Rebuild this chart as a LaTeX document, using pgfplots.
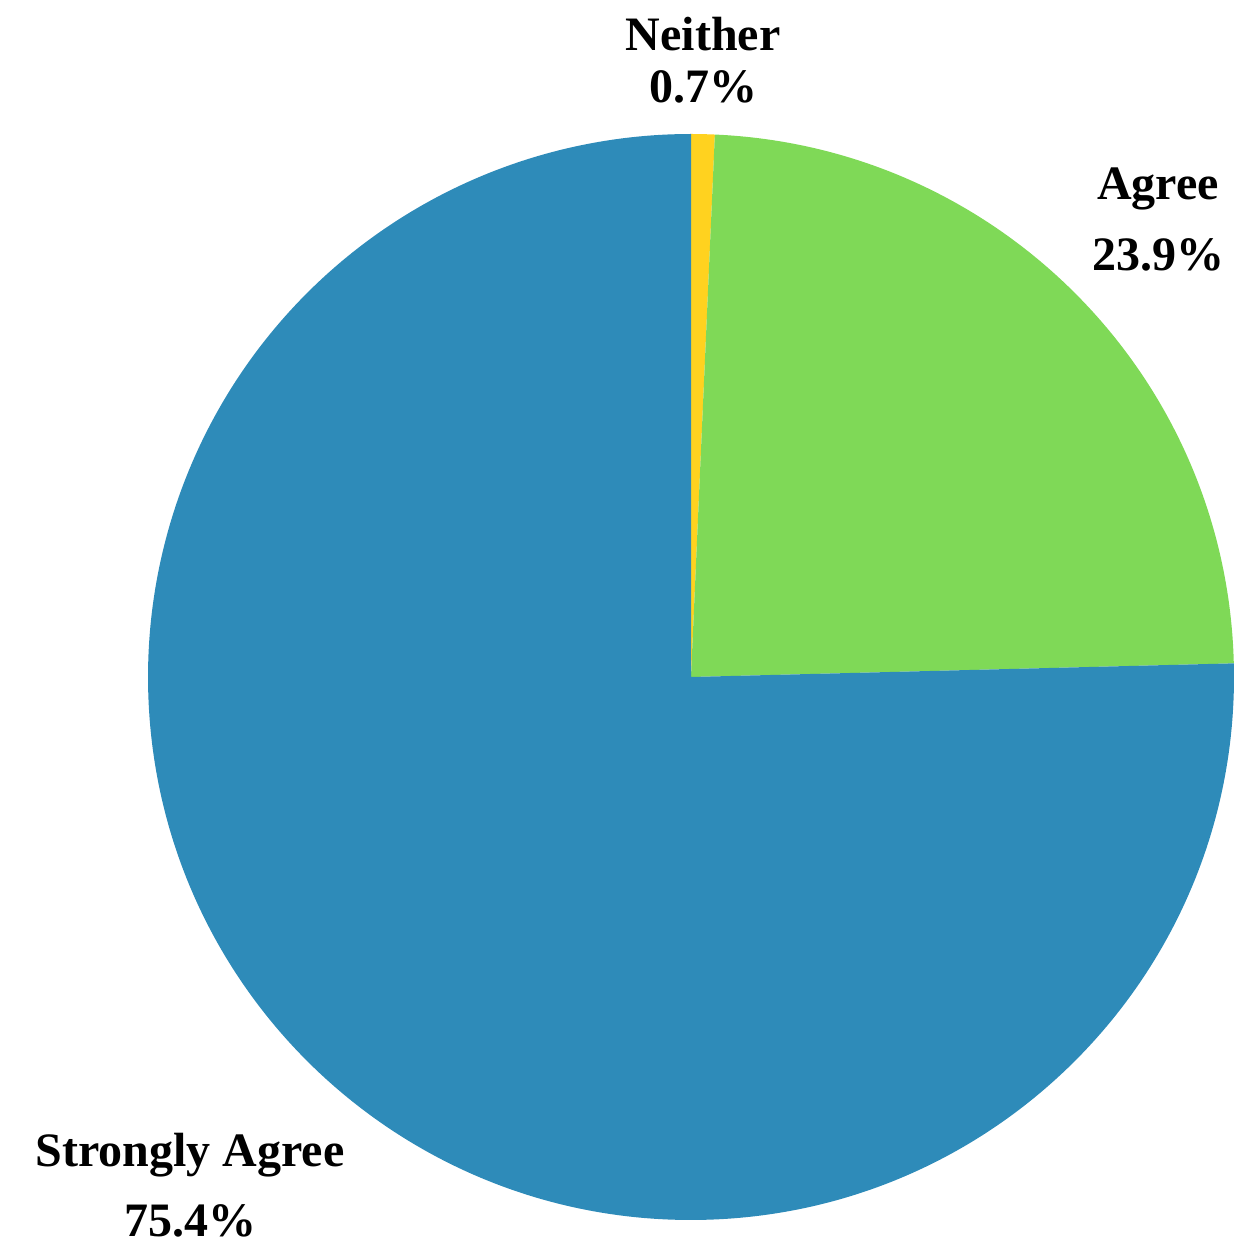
\documentclass[border=0pt]{standalone}
\usepackage{pgfplots}
\usepackage{pgfplotstable}
\pgfplotsset{compat=1.18}
\usepackage{fontspec}
\setmainfont{Liberation Serif}
\definecolor{cBlue}{HTML}{2E8BB9}
\definecolor{cGreen}{HTML}{7FD957}
\definecolor{cYellow}{HTML}{FFD21F}
\pgfplotstableread{
label value
Neither 0.7
Agree 23.9
StronglyAgree 75.4
}\piedata
\tikzset{lbl/.style={font=\fontsize{24}{28}\selectfont\bfseries, text=black, inner sep=0pt}}
\begin{document}
\begin{tikzpicture}
\pgfplotstablegetelem{0}{value}\of\piedata \let\vA\pgfplotsretval
\pgfplotstablegetelem{1}{value}\of\piedata \let\vB\pgfplotsretval
\pgfplotstablegetelem{2}{value}\of\piedata \let\vC\pgfplotsretval
\pgfmathsetmacro{\aA}{90}
\pgfmathsetmacro{\aB}{\aA-3.6*\vA}
\pgfmathsetmacro{\aC}{\aB-3.6*\vB}
\pgfmathsetmacro{\aD}{\aC-3.6*\vC}
\def\R{271.5pt}
\begin{axis}[
  scale only axis, width=617pt, height=624pt,
  xmin=0, xmax=1234, ymin=0, ymax=1248,
  hide axis, clip=false,
]
\addplot[draw=none, forget plot] coordinates {(0,0) (1234,1248)};
\fill[cYellow] (axis cs:691,571) -- ++(\aA:\R) arc[start angle=\aA, end angle=\aB, radius=\R] -- cycle;
\fill[cGreen] (axis cs:691,571) -- ++(\aB:\R) arc[start angle=\aB, end angle=\aC, radius=\R] -- cycle;
\fill[cBlue] (axis cs:691,571) -- ++(\aC:\R) arc[start angle=\aC, end angle=\aD, radius=\R] -- cycle;
\node[lbl] at (axis cs:703,1214) {Neither};
\node[lbl] at (axis cs:703,1161) {0.7\%};
\node[lbl] at (axis cs:1158,1059) {Agree};
\node[lbl] at (axis cs:1158,993) {23.9\%};
\node[lbl] at (axis cs:190,93) {Strongly Agree};
\node[lbl] at (axis cs:190,27) {75.4\%};
\end{axis}
\end{tikzpicture}
\end{document}
